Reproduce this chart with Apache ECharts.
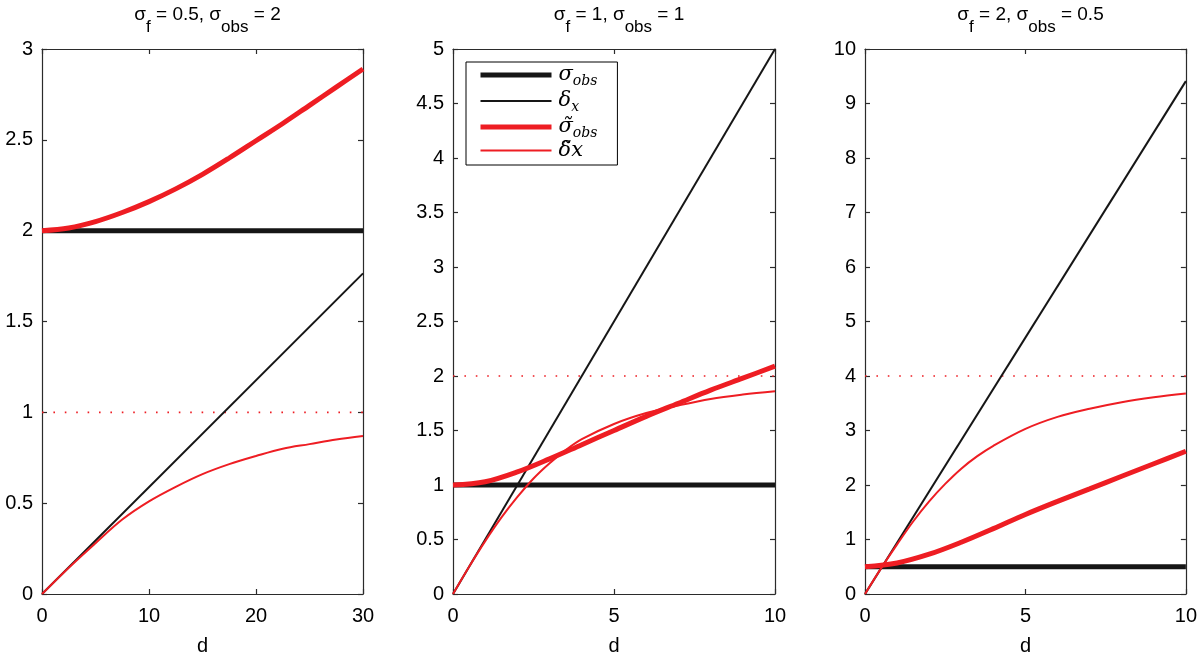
<!DOCTYPE html>
<html>
<head>
<meta charset="utf-8">
<script src="https://cdn.jsdelivr.net/npm/echarts@6/dist/echarts.min.js"></script>
<style>
html, body { margin: 0; padding: 0; background: #fff; }
#chart { width: 1200px; height: 661px; }
</style>
</head>
<body>
<div id="chart"></div>
<script>
// axes of the three panels
const xMax = [30, 10, 10];
const xStep = [10, 5, 5];
const yMax = [3, 5, 10];
const yStep = [0.5, 0.5, 1];

// title values
const sigFText = ['0.5', '1', '2'];
const sigObsText = ['2', '1', '0.5'];

// sigma_obs (thick black) and saturation level (dotted red)
const sigObs = [2, 1, 0.5];
const satLevel = [1, 2, 4];
// delta_x is a straight line from 0, value at the right edge
const dxEnd = [1.765, 5, 9.41];

// sigma~_obs (thick red)
const dWide = [0, 2.5, 5, 7.5, 10, 12.5, 15, 17.5, 20, 22.5, 25, 27.5, 30];
const sigTilde1 = [2, 2.015, 2.05, 2.10, 2.16, 2.23, 2.31, 2.40, 2.495, 2.59, 2.69, 2.79, 2.89];
const dUnit = [0, 1, 2, 3, 4, 5, 6, 7, 8, 9, 10];
const sigTilde2 = [1.0, 1.03, 1.12, 1.24, 1.37, 1.50, 1.63, 1.75, 1.87, 1.98, 2.09];
const sigTilde3 = [0.5, 0.57, 0.73, 0.95, 1.20, 1.46, 1.70, 1.93, 2.16, 2.39, 2.62];

// delta~x (thin red)
const dxTilde1 = [0, 0.145, 0.28, 0.41, 0.51, 0.59, 0.66, 0.715, 0.76, 0.80, 0.825, 0.85, 0.87];
const dFine = [0, 0.5, 1, 1.5, 2, 2.5, 3, 3.5, 4, 5, 6, 7, 8, 9, 10];
const dxTilde2 = [0, 0.25, 0.485, 0.70, 0.89, 1.06, 1.20, 1.32, 1.42, 1.56, 1.66, 1.73, 1.79, 1.83, 1.86];
const dxTilde3 = [0, 0.47, 0.91, 1.33, 1.70, 2.02, 2.30, 2.53, 2.72, 3.03, 3.25, 3.40, 3.52, 3.61, 3.68];

const sigTildeX = [dWide, dUnit, dUnit];
const sigTildeY = [sigTilde1, sigTilde2, sigTilde3];
const dxTildeX = [dWide, dFine, dFine];
const dxTildeY = [dxTilde1, dxTilde2, dxTilde3];

const gridLeft = [42, 453, 865];
const gridWidth = [321, 322, 321];

const RED = '#ee1d23';
const BLACK = '#161616';
const AXIS = '#2b2b2b';
const FONT = 'Liberation Sans';
const MATH = 'DejaVu Serif';

function zip(xs, ys) {
    return xs.map((x, i) => [x, ys[i]]);
}

function makeAxes(i) {
    let common = {
        type: 'value',
        gridIndex: i,
        min: 0,
        splitLine: { show: false },
        axisLine: { show: true, onZero: false, lineStyle: { color: AXIS, width: 1.2 } },
        axisTick: { show: true, inside: true, length: 5, lineStyle: { color: AXIS, width: 1.2 } },
    };
    let labelStyle = { color: '#000', fontFamily: FONT, fontSize: 20 };
    let xs = [
        Object.assign({}, common, {
            position: 'bottom', max: xMax[i], interval: xStep[i],
            name: 'd', nameLocation: 'middle', nameGap: 42,
            nameTextStyle: labelStyle,
            axisLabel: Object.assign({ margin: 12 }, labelStyle),
        }),
        Object.assign({}, common, {
            position: 'top', max: xMax[i], interval: xStep[i],
            axisLabel: { show: false },
        }),
    ];
    let ys = [
        Object.assign({}, common, {
            position: 'left', max: yMax[i], interval: yStep[i],
            axisLabel: Object.assign({ margin: 9 }, labelStyle),
        }),
        Object.assign({}, common, {
            position: 'right', max: yMax[i], interval: yStep[i],
            axisLabel: { show: false },
        }),
    ];
    return [xs, ys];
}

function makeSeries(i) {
    let base = {
        type: 'line',
        xAxisIndex: 2 * i,
        yAxisIndex: 2 * i,
        symbol: 'none',
        showSymbol: false,
        silent: true,
    };
    return [
        Object.assign({}, base, {
            name: 'sat' + i,
            data: [[0, satLevel[i]], [xMax[i], satLevel[i]]],
            lineStyle: { color: RED, width: 1.6, type: [1.6, 9.8] },
        }),
        Object.assign({}, base, {
            name: 'sobs',
            data: [[0, sigObs[i]], [xMax[i], sigObs[i]]],
            itemStyle: { color: BLACK },
            lineStyle: { color: BLACK, width: 5 },
        }),
        Object.assign({}, base, {
            name: 'dx',
            data: [[0, 0], [xMax[i], dxEnd[i]]],
            itemStyle: { color: BLACK },
            lineStyle: { color: BLACK, width: 2 },
        }),
        Object.assign({}, base, {
            name: 'tsobs',
            smooth: 0.35,
            data: zip(sigTildeX[i], sigTildeY[i]),
            itemStyle: { color: RED },
            lineStyle: { color: RED, width: 5 },
        }),
        Object.assign({}, base, {
            name: 'tdx',
            smooth: 0.35,
            data: zip(dxTildeX[i], dxTildeY[i]),
            itemStyle: { color: RED },
            lineStyle: { color: RED, width: 2 },
        }),
    ];
}

function getOption() {
    let option = {
        animation: false,
        backgroundColor: '#fff',
        title: [],
        grid: [],
        xAxis: [],
        yAxis: [],
        series: [],
    };
    for (let i = 0; i < 3; ++i) {
        option.grid.push({ left: gridLeft[i], width: gridWidth[i], top: 49, height: 550 });
        let [xs, ys] = makeAxes(i);
        option.xAxis.push(...xs);
        option.yAxis.push(...ys);
        option.series.push(...makeSeries(i));
        option.title.push({
            text: '{m|σ}{s|f}{m| = ' + sigFText[i] + ', σ}{s|obs}{m| = ' + sigObsText[i] + '}',
            left: gridLeft[i] + gridWidth[i] / 2,
            textAlign: 'center',
            top: -1,
            textStyle: {
                fontWeight: 'normal',
                rich: {
                    m: { fontFamily: FONT, fontWeight: 'normal', fontSize: 19, color: '#000', lineHeight: 22 },
                    s: { fontFamily: FONT, fontWeight: 'normal', fontSize: 17, color: '#000', lineHeight: 22, padding: [25, 0, 0, 0] },
                },
            },
        });
    }
    let labels = {
        sobs: '{g|σ}{s|obs}',
        dx: '{g|δ}{s|x}',
        tsobs: '{g|σ\u0303}{s|obs}',
        tdx: '{g|δ\u0303x}',
    };
    option.legend = {
        data: [
            { name: 'sobs', lineStyle: { width: 5, color: BLACK } },
            { name: 'dx', lineStyle: { width: 2, color: BLACK } },
            { name: 'tsobs', lineStyle: { width: 5, color: RED } },
            { name: 'tdx', lineStyle: { width: 2, color: RED } },
        ],
        orient: 'vertical',
        left: 466,
        top: 62,
        padding: [0, 20, 4, 12],
        itemWidth: 71,
        itemHeight: 14,
        itemGap: 0,
        selectedMode: false,
        borderColor: '#000',
        borderWidth: 1,
        backgroundColor: '#fff',
        itemStyle: { opacity: 0 },
        formatter: name => labels[name],
        textStyle: {
            padding: [0, 0, 0, 2],
            rich: {
                g: { fontFamily: MATH, fontStyle: 'italic', fontSize: 21, color: '#000', lineHeight: 26 },
                s: { fontFamily: MATH, fontStyle: 'italic', fontSize: 14, color: '#000', lineHeight: 14, padding: [12, 0, 0, 0] },
            },
        },
    };
    return option;
}

let myChart = echarts.init(document.getElementById('chart'), null, { renderer: 'canvas' });
myChart.setOption(getOption());
</script>
</body>
</html>
